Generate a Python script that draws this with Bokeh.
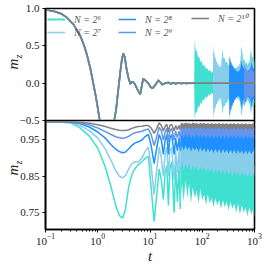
from bokeh.plotting import figure
from bokeh.layouts import column, row
from bokeh.models import Range1d, FixedTicker, Legend, LegendItem, Div
from bokeh.embed import file_html
from bokeh.resources import INLINE

labels = ["N = 2\u2076", "N = 2\u2077", "N = 2\u2078", "N = 2\u2079", "N = 2\u00b9\u2070"]
colors = ["#40E0D0", "#87CEEB", "#1E90FF", "#6495ED", "#808080"]
y_title = ("m", "z")
x_title = "t"

# ---------- top panel: common curve (all N coincide before revivals) ----------
t_top = [0.1, 0.15, 0.2, 0.255, 0.34, 0.46, 0.55, 0.62, 0.72, 0.82, 0.92, 1.0, 1.09, 1.25, 1.45,
         1.63, 1.8, 1.95, 2.07, 2.25, 2.46, 2.7, 2.87, 3.07, 3.3, 3.5, 3.84, 4.2, 4.6, 5.0,
         5.7, 6.5, 7.4, 8.3, 9.3, 10.2, 11.1, 12.8, 14.5, 15.8, 17.2, 19.5, 22.5, 25, 28,
         31, 35, 40, 45, 50, 56, 63, 70, 200, 1000]
mz_top = [0.985, 0.96, 0.93, 0.88, 0.79, 0.64, 0.50, 0.38, 0.2, 0.0, -0.18, -0.33, -0.5, -0.72, -0.91,
          -0.98, -0.9, -0.72, -0.5, -0.35, -0.1, 0.15, 0.3, 0.40, 0.35, 0.22, 0.08, -0.01, 0.02, 0.0,
          -0.08, -0.15, 0.06, 0.03, 0.0, -0.05, -0.07, -0.02, 0.04, 0.01, -0.02, 0.0, 0.01, -0.01, 0.006,
          -0.008, 0.004, -0.004, 0.003, -0.003, 0.002, -0.002, 0.0, 0.0, 0.0]

# revival envelopes (top panel)
t_rev6 = [70, 71.5, 73, 76, 79, 83, 87, 92, 97, 103, 109, 116, 123, 131, 140, 150, 161, 173, 186, 200,
          215, 232, 240, 244, 250, 258, 268, 280, 295, 312, 330, 350, 372, 396, 422, 450, 480, 512, 540, 556,
          566, 578, 595, 615, 640, 668, 700, 735, 772, 810, 840, 855, 872, 895, 925, 960, 1000]
up_rev6 = [0.0, 0.58, 0.50, 0.42, 0.44, 0.34, 0.36, 0.28, 0.30, 0.23, 0.25, 0.19, 0.21, 0.16, 0.18,
           0.14, 0.16, 0.13, 0.17, 0.15, 0.18, 0.22, 0.40, 0.46, 0.38, 0.32, 0.34, 0.27, 0.29, 0.23,
           0.25, 0.21, 0.22, 0.19, 0.21, 0.20, 0.22, 0.24, 0.30, 0.45, 0.50, 0.42, 0.36, 0.30, 0.32,
           0.26, 0.28, 0.24, 0.27, 0.30, 0.40, 0.47, 0.40, 0.33, 0.36, 0.30, 0.33]
lo_rev6 = [0.0, -0.47, -0.44, -0.38, -0.40, -0.31, -0.33, -0.26, -0.28, -0.22, -0.23, -0.18, -0.20, -0.15, -0.17,
           -0.13, -0.15, -0.12, -0.15, -0.14, -0.17, -0.20, -0.36, -0.42, -0.35, -0.30, -0.31, -0.25, -0.27, -0.21,
           -0.23, -0.19, -0.20, -0.18, -0.19, -0.19, -0.21, -0.22, -0.28, -0.40, -0.44, -0.38, -0.33, -0.28, -0.29,
           -0.24, -0.26, -0.22, -0.25, -0.28, -0.36, -0.42, -0.37, -0.30, -0.33, -0.28, -0.30]

t_rev7 = [160, 162, 164, 167, 171, 175, 180, 186, 192, 199, 206, 214, 222, 231, 240, 245, 250, 258, 268, 280,
          295, 312, 330, 350, 372, 396, 422, 450, 480, 512, 540, 556, 566, 578, 595, 615, 640, 668, 700, 735,
          772, 810, 840, 855, 872, 895, 925, 960, 1000]
up_rev7 = [0.0, 0.53, 0.46, 0.40, 0.42, 0.33, 0.35, 0.28, 0.30, 0.24, 0.26, 0.21, 0.23, 0.22, 0.36,
           0.42, 0.35, 0.28, 0.30, 0.24, 0.26, 0.21, 0.22, 0.19, 0.21, 0.19, 0.20, 0.19, 0.21, 0.23,
           0.28, 0.40, 0.45, 0.38, 0.32, 0.27, 0.29, 0.24, 0.26, 0.22, 0.25, 0.27, 0.35, 0.40, 0.34,
           0.29, 0.31, 0.27, 0.29]
lo_rev7 = [0.0, -0.50, -0.45, -0.38, -0.40, -0.32, -0.34, -0.27, -0.29, -0.23, -0.25, -0.20, -0.22, -0.21, -0.33,
           -0.39, -0.33, -0.27, -0.28, -0.23, -0.24, -0.20, -0.21, -0.18, -0.20, -0.18, -0.19, -0.18, -0.20, -0.22,
           -0.26, -0.37, -0.41, -0.35, -0.30, -0.25, -0.27, -0.23, -0.25, -0.21, -0.23, -0.25, -0.32, -0.37, -0.32,
           -0.27, -0.29, -0.25, -0.27]

t_rev8 = [325, 330, 335, 342, 350, 359, 368, 378, 390, 402, 415, 430, 445, 462, 480, 500, 520, 545, 560, 575,
          600, 625, 655, 690, 725, 760, 800, 845, 870, 900, 940, 975, 1000]
up_rev8 = [0.0, 0.38, 0.33, 0.34, 0.28, 0.29, 0.24, 0.25, 0.21, 0.22, 0.18, 0.19, 0.16, 0.17, 0.15,
           0.16, 0.17, 0.22, 0.30, 0.26, 0.22, 0.20, 0.18, 0.17, 0.16, 0.17, 0.18, 0.22, 0.28, 0.24,
           0.20, 0.19, 0.18]
lo_rev8 = [0.0, -0.48, -0.42, -0.42, -0.35, -0.36, -0.30, -0.31, -0.26, -0.27, -0.22, -0.23, -0.19, -0.20, -0.17,
           -0.18, -0.19, -0.25, -0.34, -0.29, -0.25, -0.22, -0.20, -0.19, -0.18, -0.19, -0.20, -0.25, -0.32, -0.27,
           -0.23, -0.21, -0.20]

t_rev9 = [630, 640, 648, 658, 670, 683, 697, 712, 728, 745, 763, 782, 802, 823, 845, 868, 892, 917, 943, 970, 1000]
up_rev9 = [0.0, 0.28, 0.24, 0.25, 0.21, 0.22, 0.18, 0.19, 0.16, 0.17, 0.15, 0.16, 0.15, 0.17, 0.20,
           0.18, 0.16, 0.17, 0.15, 0.16, 0.15]
lo_rev9 = [0.0, -0.33, -0.29, -0.30, -0.25, -0.26, -0.21, -0.22, -0.18, -0.19, -0.17, -0.18, -0.17, -0.19, -0.23,
           -0.20, -0.18, -0.19, -0.17, -0.18, -0.17]

# ---------- bottom panel ----------
t_bot = [0.1, 0.2, 0.3, 0.45, 0.7, 1.0, 1.4, 1.8, 2.2, 2.6, 3.0, 3.4, 3.9, 4.5, 5.2, 6.0, 7.0, 8.2, 9.3,
         10.5, 12.0, 13.5, 15.0, 16.5, 18.0, 19.5, 21.0, 22.5, 24.0, 26.0, 29.0, 31.0, 33.5, 36.0, 38.0]
mb6 = [1.0, 0.999, 0.997, 0.984, 0.960, 0.928, 0.875, 0.82, 0.77, 0.742, 0.735, 0.76, 0.82, 0.855, 0.872,
       0.882, 0.89, 0.90, 0.905, 0.82, 0.726, 0.80, 0.87, 0.84, 0.786, 0.86, 0.88, 0.77, 0.87, 0.89,
       0.75, 0.88, 0.78, 0.88, 0.76]
mb7 = [1.0, 0.9995, 0.998, 0.99, 0.975, 0.955, 0.925, 0.893, 0.866, 0.85, 0.846, 0.852, 0.87, 0.885, 0.89,
       0.89, 0.90, 0.92, 0.93, 0.88, 0.80, 0.87, 0.93, 0.90, 0.85, 0.91, 0.93, 0.85, 0.92, 0.93,
       0.84, 0.92, 0.86, 0.92, 0.86]
mb8 = [1.0, 1.0, 0.999, 0.995, 0.985, 0.972, 0.955, 0.937, 0.925, 0.918, 0.915, 0.917, 0.925, 0.935, 0.942,
       0.945, 0.95, 0.96, 0.965, 0.935, 0.885, 0.93, 0.965, 0.95, 0.91, 0.95, 0.965, 0.91, 0.955, 0.965,
       0.91, 0.955, 0.92, 0.955, 0.92]
mb9 = [1.0, 1.0, 0.9995, 0.997, 0.991, 0.983, 0.973, 0.965, 0.959, 0.956, 0.955, 0.956, 0.96, 0.966, 0.97,
       0.972, 0.974, 0.978, 0.98, 0.965, 0.935, 0.96, 0.985, 0.975, 0.95, 0.972, 0.982, 0.945, 0.975, 0.982,
       0.95, 0.975, 0.955, 0.975, 0.955]
mb10 = [1.0, 1.0, 1.0, 0.999, 0.996, 0.992, 0.987, 0.982, 0.979, 0.977, 0.976, 0.976, 0.978, 0.982, 0.985,
        0.987, 0.988, 0.99, 0.99, 0.983, 0.968, 0.982, 0.997, 0.99, 0.975, 0.988, 0.993, 0.972, 0.99, 0.993,
        0.975, 0.99, 0.978, 0.99, 0.978]

t_band = [38, 41, 44, 48, 52, 56, 61, 66, 72, 78, 85, 92, 100, 109, 118, 128, 139, 151, 164, 178,
          194, 211, 229, 249, 270, 294, 319, 347, 377, 410, 446, 484, 526, 572, 622, 676, 735, 799, 868, 943, 1000]
lo_b6 = [0.76, 0.83, 0.78, 0.84, 0.79, 0.83, 0.775, 0.82, 0.79, 0.81, 0.775, 0.815, 0.785, 0.80, 0.77,
         0.80, 0.775, 0.79, 0.765, 0.79, 0.77, 0.785, 0.76, 0.785, 0.765, 0.78, 0.755, 0.78, 0.76, 0.775,
         0.75, 0.775, 0.745, 0.77, 0.75, 0.765, 0.74, 0.765, 0.745, 0.76, 0.735]
up_b6 = [0.89, 0.895, 0.89, 0.895, 0.89, 0.89, 0.885, 0.89, 0.885, 0.89, 0.885, 0.89, 0.885, 0.888, 0.884,
         0.888, 0.884, 0.887, 0.883, 0.887, 0.883, 0.886, 0.882, 0.886, 0.882, 0.885, 0.881, 0.885, 0.881, 0.884,
         0.88, 0.884, 0.88, 0.883, 0.88, 0.883, 0.879, 0.882, 0.879, 0.882, 0.879]
lo_b7 = [0.86, 0.89, 0.865, 0.885, 0.87, 0.885, 0.865, 0.88, 0.868, 0.878, 0.862, 0.877, 0.865, 0.875, 0.86,
         0.874, 0.862, 0.872, 0.858, 0.87, 0.857, 0.87, 0.855, 0.868, 0.853, 0.866, 0.855, 0.865, 0.85, 0.864,
         0.852, 0.862, 0.848, 0.862, 0.85, 0.86, 0.847, 0.86, 0.848, 0.858, 0.85]
up_b7 = [0.935, 0.94, 0.935, 0.94, 0.936, 0.938, 0.934, 0.938, 0.934, 0.937, 0.933, 0.937, 0.933, 0.936, 0.932,
         0.936, 0.932, 0.935, 0.931, 0.935, 0.931, 0.934, 0.93, 0.934, 0.93, 0.933, 0.93, 0.933, 0.929, 0.933,
         0.929, 0.932, 0.929, 0.932, 0.928, 0.932, 0.928, 0.931, 0.928, 0.931, 0.928]
lo_b8 = [0.915, 0.935, 0.92, 0.935, 0.922, 0.932, 0.918, 0.93, 0.92, 0.93, 0.917, 0.929, 0.918, 0.928, 0.915,
         0.927, 0.917, 0.926, 0.914, 0.926, 0.915, 0.925, 0.912, 0.925, 0.914, 0.924, 0.912, 0.924, 0.913, 0.923,
         0.911, 0.923, 0.912, 0.922, 0.91, 0.922, 0.911, 0.921, 0.91, 0.921, 0.912]
up_b8 = [0.968, 0.972, 0.968, 0.971, 0.968, 0.97, 0.967, 0.97, 0.967, 0.97, 0.966, 0.969, 0.966, 0.969, 0.966,
         0.969, 0.966, 0.968, 0.965, 0.968, 0.965, 0.968, 0.965, 0.968, 0.965, 0.967, 0.964, 0.967, 0.964, 0.967,
         0.964, 0.967, 0.964, 0.966, 0.964, 0.966, 0.963, 0.966, 0.963, 0.966, 0.963]
lo_b9 = [0.952, 0.965, 0.955, 0.966, 0.956, 0.965, 0.955, 0.964, 0.956, 0.965, 0.954, 0.964, 0.956, 0.963, 0.954,
         0.964, 0.955, 0.963, 0.953, 0.963, 0.955, 0.962, 0.953, 0.963, 0.954, 0.962, 0.953, 0.962, 0.954, 0.962,
         0.952, 0.962, 0.953, 0.961, 0.952, 0.962, 0.952, 0.961, 0.953, 0.961, 0.952]
up_b9 = [0.986, 0.988, 0.986, 0.988, 0.986, 0.987, 0.985, 0.987, 0.985, 0.987, 0.985, 0.987, 0.985, 0.986, 0.985,
         0.986, 0.985, 0.986, 0.984, 0.986, 0.984, 0.986, 0.984, 0.986, 0.984, 0.985, 0.984, 0.985, 0.984, 0.985,
         0.983, 0.985, 0.983, 0.985, 0.983, 0.985, 0.983, 0.985, 0.983, 0.984, 0.983]
lo_b10 = [0.976, 0.986, 0.979, 0.987, 0.98, 0.986, 0.979, 0.986, 0.98, 0.985, 0.979, 0.986, 0.98, 0.985, 0.978,
          0.985, 0.979, 0.985, 0.978, 0.985, 0.979, 0.984, 0.978, 0.985, 0.978, 0.984, 0.977, 0.984, 0.978, 0.984,
          0.977, 0.984, 0.978, 0.983, 0.977, 0.984, 0.977, 0.983, 0.977, 0.983, 0.977]
up_b10 = [0.993, 0.998, 0.994, 0.998, 0.995, 0.997, 0.994, 0.998, 0.995, 0.997, 0.994, 0.997, 0.995, 0.997, 0.994,
          0.997, 0.994, 0.997, 0.994, 0.996, 0.994, 0.997, 0.993, 0.996, 0.994, 0.996, 0.993, 0.996, 0.994, 0.996,
          0.993, 0.996, 0.993, 0.996, 0.993, 0.996, 0.993, 0.995, 0.993, 0.996, 0.993]

top_ticks = [-0.5, 0.0, 0.5, 1.0]
top_tick_labels = {-0.5: "\u22120.5", 0.0: "0.0", 0.5: "0.5", 1.0: "1.0"}
bot_ticks = [0.75, 0.85, 0.95]

SERIF = "Liberation Serif"
LW = 1.5
LEFT_W = 16


def style(p):
    p.grid.visible = False
    p.outline_line_color = "black"
    p.outline_line_width = 1.6
    p.background_fill_color = "white"
    p.border_fill_alpha = 0
    for ax in p.yaxis:
        ax.major_label_text_font = SERIF
        ax.major_label_text_font_size = "11px"
        ax.major_label_text_color = "#222222"
        ax.axis_line_width = 1.6
        ax.major_tick_in = 0
        ax.major_tick_out = 3
        ax.minor_tick_in = 0
        ax.minor_tick_out = 0
        ax.major_label_standoff = 3


p1 = figure(width=266 - LEFT_W, height=128, x_axis_type="log",
            x_range=Range1d(0.1, 1000), y_range=Range1d(-0.5, 1.0),
            output_backend="svg", toolbar_location=None,
            min_border_left=45 - LEFT_W, min_border_right=12, min_border_top=8, min_border_bottom=8)
style(p1)
p1.xaxis.visible = False
p1.yaxis.ticker = FixedTicker(ticks=top_ticks)
p1.yaxis.major_label_overrides = top_tick_labels

rends = []
widths = [2.0, 1.5, 1.5, 1.5, 1.6]
for i in range(4):
    r = p1.line(t_top, mz_top, line_color=colors[i], line_width=widths[i])
    rends.append(r)
p1.varea(x=t_rev6, y1=lo_rev6, y2=up_rev6, fill_color=colors[0])
p1.varea(x=t_rev7, y1=lo_rev7, y2=up_rev7, fill_color=colors[1])
p1.varea(x=t_rev8, y1=lo_rev8, y2=up_rev8, fill_color=colors[2])
p1.varea(x=t_rev9, y1=lo_rev9, y2=up_rev9, fill_color=colors[3])
r10 = p1.line(t_top, mz_top, line_color=colors[4], line_width=widths[4])
rends.append(r10)

leg_kw = dict(padding=0, margin=0, spacing=1, glyph_width=18, glyph_height=12, label_height=12,
              label_standoff=9, background_fill_alpha=0, border_line_alpha=0,
              label_text_font=SERIF, label_text_font_style="italic", label_text_font_size="10px",
              label_text_color="#555555")
leg1 = Legend(items=[LegendItem(label=labels[0], renderers=[rends[0]]),
                     LegendItem(label=labels[1], renderers=[rends[1]])], location=(2, 82), **leg_kw)
leg2 = Legend(items=[LegendItem(label=labels[2], renderers=[rends[2]]),
                     LegendItem(label=labels[3], renderers=[rends[3]])], location=(73, 82), **leg_kw)
leg3 = Legend(items=[LegendItem(label=labels[4], renderers=[rends[4]])], location=(146, 95), **leg_kw)
for lg in (leg1, leg2, leg3):
    p1.add_layout(lg)

p2 = figure(width=266 - LEFT_W, height=146, x_axis_type="log",
            x_range=p1.x_range, y_range=Range1d(0.7036, 1.0036),
            output_backend="svg", toolbar_location=None,
            min_border_left=45 - LEFT_W, min_border_right=12, min_border_top=0, min_border_bottom=34)
style(p2)
p2.margin = (-8, 0, 0, 0)
p2.yaxis.ticker = FixedTicker(ticks=bot_ticks)
ax = p2.xaxis[0]
ax.major_label_text_font = SERIF
ax.major_label_text_font_size = "11px"
ax.major_label_text_color = "#222222"
ax.axis_line_width = 1.6
ax.major_tick_in = 0
ax.major_tick_out = 3
ax.minor_tick_in = 0
ax.minor_tick_out = 2
ax.major_label_standoff = 1
ax.axis_label = x_title
ax.axis_label_text_font = SERIF
ax.axis_label_text_font_style = "italic"
ax.axis_label_text_font_size = "15px"
ax.axis_label_text_color = "#222222"
ax.axis_label_standoff = 0

mbs = [mb6, mb7, mb8, mb9, mb10]
bands = [(lo_b6, up_b6), (lo_b7, up_b7), (lo_b8, up_b8), (lo_b9, up_b9), (lo_b10, up_b10)]
for i in range(5):
    p2.line(t_bot, mbs[i], line_color=colors[i], line_width=LW)
    p2.varea(x=t_band, y1=bands[i][0], y2=bands[i][1], fill_color=colors[i])


def ylab(cx, cy):
    return ('<span style="position:absolute;left:%.1fpx;top:%.1fpx;white-space:nowrap;'
            'transform:translate(-50%%,-50%%) rotate(-90deg);font-family:\'Liberation Serif\';'
            'font-size:15px;color:#222;line-height:1;"><i>%s</i><sub style="font-size:10px;'
            'font-style:italic;">%s</sub></span>' % (cx, cy, y_title[0], y_title[1]))


html = ('<div style="position:relative;width:%dpx;height:266px;">' % LEFT_W
        + ylab(15.0, 62) + ylab(15.0, 168) + '</div>')
ydiv = Div(text=html, width=LEFT_W, height=266, margin=0)

layout = row(ydiv, column(p1, p2, spacing=0), spacing=0)
open("out.html", "w").write(file_html(layout, INLINE))
